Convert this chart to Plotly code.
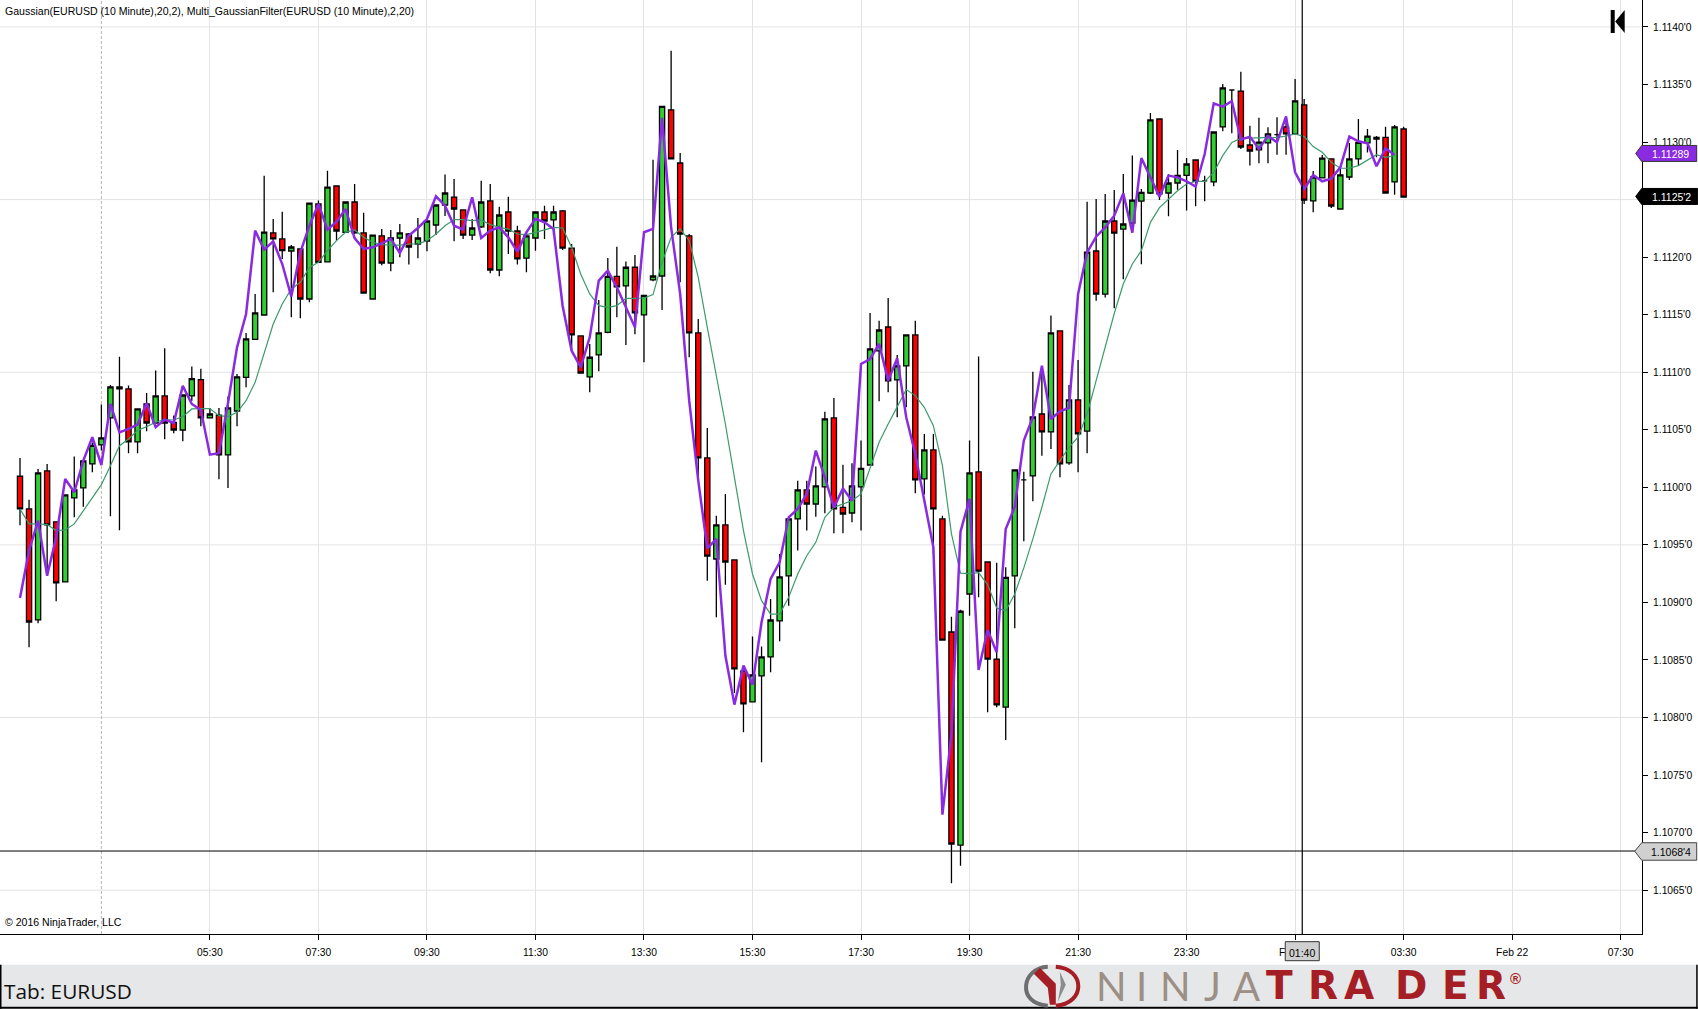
import numpy as np
import plotly.graph_objects as go

# Prices are kept in pips above 1.1000 (1.1125'0 -> 125.0)
BASE_PRICE = 1.1000
PIP = 0.0001

DIRECTION = ("RRGRRGGGGG" "GRRGRGRRGG" "RGRGGGGGRR" "GRGRGRGRRG" "RGGRGGGGRR"
             "GGRGRRGGRG" "RRRGGGRGRG" "GGRRRRRGRR" "RGGGGGGRGG" "RRGGGGRGGR"
             "GRRRGGRRRG" "GGGRGRGRGR" "GRGGGGRGGG" "RGGGGRRGGG" "RGRGGRGGGG" "RRGR")

HIGH = [102.55,98.93,101.60,102.03,97.00,99.34,102.67,102.30,103.90,107.20,
        108.89,111.35,108.84,106.81,108.20,110.14,112.08,106.23,108.02,110.49,
        110.30,106.90,106.90,107.88,109.85,113.41,116.80,127.08,123.31,123.95,
        121.05,120.71,124.70,124.91,127.51,126.20,124.80,126.35,123.86,121.92,
        122.44,122.36,122.88,122.10,123.40,123.14,124.53,127.17,126.79,124.10,
        123.31,126.64,126.35,124.38,125.25,122.73,122.00,123.92,124.47,124.47,
        124.10,121.14,113.15,112.46,116.28,119.93,120.91,119.61,120.19,116.68,
        128.47,133.10,137.94,129.05,122.01,114.63,105.16,97.54,99.42,93.69,
        84.04,87.03,86.16,90.30,94.21,97.25,100.58,100.58,101.80,106.57,
        107.75,101.97,102.09,104.06,115.15,114.48,116.45,111.50,113.24,114.48,
        104.64,104.64,97.54,88.76,89.37,104.06,111.36,93.51,93.45,93.05,
        101.51,101.36,110.05,110.50,114.92,113.59,108.89,111.07,124.82,125.05,
        125.48,125.83,127.22,128.82,125.92,132.52,132.00,127.20,129.31,128.61,
        128.44,127.08,130.87,135.04,134.52,136.11,131.42,132.12,131.28,132.15,
        132.00,135.48,133.74,127.48,128.87,128.53,127.66,129.92,132.00,131.13,
        130.52,131.33,131.48,131.33]

BODY_TOP = [100.96,98.12,101.25,101.42,97.00,99.34,99.77,102.29,103.65,104.29,
            108.72,108.72,108.55,106.81,107.24,107.94,107.94,105.65,108.02,109.44,
            109.36,106.37,106.26,106.90,109.60,112.89,115.15,122.18,122.10,121.58,
            120.88,120.71,124.70,124.62,126.09,126.18,124.79,124.79,122.10,121.92,
            121.84,121.66,122.10,122.01,121.66,123.14,124.53,125.57,125.22,124.10,
            122.53,124.79,124.88,123.66,123.92,122.27,121.84,123.92,123.92,123.92,
            124.01,120.79,113.15,111.30,113.41,118.33,118.33,119.12,119.12,116.68,
            118.36,133.10,132.79,128.18,121.84,113.41,102.55,96.73,96.73,93.69,
            84.04,83.70,85.26,88.47,92.21,97.25,99.77,99.77,100.12,105.94,
            106.03,98.26,100.12,101.65,112.02,113.67,113.93,110.55,113.24,113.24,
            103.25,103.25,97.25,87.43,89.23,101.25,101.34,93.51,85.08,92.18,
            101.51,100.64,106.11,106.37,113.41,113.59,107.59,107.59,120.44,120.53,
            123.14,123.14,122.88,124.96,125.63,131.92,132.00,126.44,127.11,128.09,
            128.44,126.62,130.87,134.70,134.52,134.43,129.74,130.00,130.70,130.64,
            131.31,133.57,133.22,126.96,128.61,128.53,127.14,128.53,129.97,130.52,
            130.41,130.41,131.31,131.13]

BODY_BOT = [98.12,88.30,88.48,96.73,91.69,91.78,99.08,99.95,102.03,103.68,
            106.03,108.55,103.94,103.94,105.59,105.59,105.59,104.98,104.98,107.94,
            106.03,106.03,102.81,102.81,106.63,109.56,112.86,114.97,121.58,120.56,
            120.53,116.36,116.36,119.55,119.58,122.27,122.15,122.10,116.88,116.36,
            119.49,119.49,121.66,120.88,121.14,121.40,122.79,124.53,124.18,121.92,
            121.92,122.62,118.88,118.88,122.27,119.84,119.92,121.66,123.14,123.23,
            120.79,113.24,109.93,109.59,111.50,113.47,117.41,117.50,115.15,114.98,
            118.02,118.36,128.53,122.01,113.41,102.55,94.03,93.77,93.51,84.22,
            81.18,81.35,83.61,85.26,88.39,92.30,97.25,98.55,98.55,100.03,
            98.12,97.68,97.77,100.03,101.94,111.85,109.24,109.33,110.55,100.64,
            100.73,98.12,86.73,69.01,68.92,90.73,92.72,85.08,81.09,80.91,
            92.30,100.64,100.99,104.81,104.81,102.03,102.12,104.64,104.89,116.79,
            116.79,122.09,122.44,122.96,124.87,125.57,125.49,125.57,126.44,127.11,
            126.59,126.62,126.53,131.31,134.52,129.57,129.22,129.31,129.92,130.64,
            130.70,130.70,124.96,124.88,126.88,124.44,124.18,126.96,128.53,129.92,
            130.26,125.57,126.53,125.22]

LOW = [96.70,86.10,88.19,92.30,90.10,91.78,97.40,98.32,101.30,103.19,
       97.48,96.27,102.96,102.96,104.87,105.59,104.17,104.69,104.00,107.53,
       105.30,106.03,100.70,99.95,105.30,108.69,112.80,114.97,116.94,119.84,
       114.77,114.68,116.07,119.55,119.58,121.43,122.15,122.00,116.88,116.36,
       119.29,118.77,119.98,119.35,119.90,120.50,121.92,123.57,121.37,121.58,
       121.49,122.53,118.59,118.33,120.27,119.35,118.68,120.56,121.58,121.92,
       120.62,111.82,109.93,108.26,110.08,113.38,114.77,112.37,113.30,110.86,
       117.90,115.41,128.53,117.81,111.30,100.70,91.89,88.71,91.54,82.13,
       78.71,81.35,76.11,83.93,86.62,89.72,94.50,96.24,97.45,97.74,
       96.00,96.00,96.96,96.24,101.94,107.48,108.26,106.09,106.95,99.48,
       99.37,94.20,86.73,65.59,67.13,88.85,90.44,80.45,80.89,78.05,
       87.75,95.31,98.79,102.75,103.33,100.87,101.97,101.31,102.95,116.22,
       116.50,115.55,118.07,122.15,119.37,125.49,124.96,123.55,125.86,124.04,
       124.42,124.85,126.15,130.93,130.76,129.40,127.95,128.15,128.15,128.90,
       128.90,130.70,124.62,123.89,126.88,124.27,124.18,126.70,127.92,129.10,
       128.67,125.57,125.43,125.22]

MULTI_GAUSSIAN = [90.39,94.50,97.11,92.33,95.66,100.73,99.57,102.32,104.35,101.94,
                  107.24,104.78,105.07,105.45,107.30,105.22,105.88,105.59,108.81,107.24,
                  106.72,102.84,102.96,107.30,112.16,115.06,122.30,120.65,121.37,119.40,
                  116.57,120.42,122.73,124.62,122.39,123.08,124.18,121.66,120.71,120.85,
                  121.20,121.58,120.36,121.87,122.53,123.31,125.28,124.47,122.73,122.39,
                  125.20,121.66,122.30,122.59,121.72,120.48,122.15,123.34,123.02,122.44,
                  115.78,111.87,110.43,113.03,117.96,118.83,117.38,115.64,113.90,122.16,
                  122.45,132.09,122.59,116.80,107.53,100.58,94.70,95.51,85.38,81.12,
                  84.51,82.86,88.27,92.04,93.48,97.39,98.12,99.42,103.19,100.87,
                  98.26,99.91,98.84,110.72,111.15,112.46,109.27,111.21,106.09,102.90,
                  98.85,94.79,71.56,78.57,96.15,98.99,84.13,87.60,85.66,96.38,
                  98.30,104.06,106.09,110.57,105.94,106.61,106.90,116.79,120.41,121.78,
                  122.59,123.60,125.54,122.12,128.61,126.93,125.25,127.08,126.93,126.59,
                  126.12,128.96,133.36,133.07,133.54,130.21,130.47,129.40,130.52,129.97,
                  132.23,127.37,125.92,127.14,126.59,126.82,127.80,130.47,130.06,129.89,
                  127.89,129.45,128.90]

GAUSSIAN = [98.12,96.82,96.82,96.76,96.24,96.30,96.82,97.98,99.13,100.23,
            101.88,103.62,104.20,104.93,105.27,105.65,105.88,105.85,106.14,106.81,
            106.84,106.84,106.23,106.14,106.52,107.53,109.12,111.58,114.19,115.93,
            117.23,117.81,119.11,119.55,120.56,121.43,122.15,122.36,121.72,121.29,
            121.08,121.05,121.05,121.14,121.14,121.43,122.01,122.73,123.26,123.26,
            123.17,123.23,122.82,122.59,122.44,122.01,121.95,122.15,122.36,122.59,
            122.53,120.85,118.53,116.80,115.78,115.64,115.79,116.42,116.42,116.45,
            116.74,119.55,121.72,122.45,121.43,118.25,113.90,109.85,105.50,100.87,
            96.24,92.47,90.15,88.98,88.98,90.44,92.47,94.06,95.22,97.39,
            98.26,98.55,98.84,99.42,101.59,103.91,105.50,107.00,108.49,107.97,
            106.95,105.36,101.89,95.95,92.55,92.50,92.58,91.55,89.51,89.28,
            90.73,93.00,95.52,98.27,101.16,102.32,103.48,104.35,106.37,109.27,
            112.17,115.10,117.66,119.40,120.56,123.02,124.30,125.05,125.77,126.35,
            126.58,126.58,127.37,128.82,129.97,130.32,130.35,130.35,130.35,130.41,
            130.52,130.70,130.47,129.60,129.11,128.24,127.72,127.72,127.95,128.44,
            128.90,128.67,128.82]

TIME_TICK_BARS = [21, 33, 45, 57, 69, 81, 93, 105, 117, 129, 141, 153, 165, 177]
TIME_TICK_LABELS = ["05:30", "07:30", "09:30", "11:30", "13:30", "15:30", "17:30", "19:30",
                    "21:30", "23:30", "Feb 21", "03:30", "Feb 22", "07:30"]
PRICE_TICKS = [1.1065, 1.1070, 1.1075, 1.1080, 1.1085, 1.1090, 1.1095, 1.1100, 1.1105,
               1.1110, 1.1115, 1.1120, 1.1125, 1.1130, 1.1135, 1.1140]
PRICE_GRID = [1.1065, 1.1080, 1.1095, 1.1110, 1.1125, 1.1140]
SESSION_BAR = 9
CROSS_BAR = 141.79
CROSS_PRICE = 1.10684
LAST_INDICATOR = "1.11289"
LAST_PRICE = "1.1125'2"
CROSS_PRICE_LABEL = "1.1068'4"
CROSS_TIME_LABEL = "01:40"

W, H = 1698, 1009
PLOT_R, PLOT_B = 1642.3, 934.3
BAR_PX = 9.045
FONT = "Liberation Sans"


def to_price(a):
    return BASE_PRICE + np.array(a) * PIP


def fx(px):
    return px / PLOT_R


def fy(py):
    return (PLOT_B - py) / PLOT_B


def poly(points):
    return "M " + " L ".join(f"{fx(a):.5f},{fy(b):.5f}" for a, b in points) + " Z"


def curve(p0, c1, c2, p1):
    return (f"M {fx(p0[0]):.5f},{fy(p0[1]):.5f} C {fx(c1[0]):.5f},{fy(c1[1]):.5f} "
            f"{fx(c2[0]):.5f},{fy(c2[1]):.5f} {fx(p1[0]):.5f},{fy(p1[1]):.5f}")


n = len(DIRECTION)
assert all(len(a) == n for a in (HIGH, BODY_TOP, BODY_BOT, LOW))
is_up = np.array([c == "G" for c in DIRECTION])
top, bot = to_price(BODY_TOP), to_price(BODY_BOT)
opens = np.where(is_up, bot, top)
closes = np.where(is_up, top, bot)
bars = np.arange(n)

fig = go.Figure()
fig.add_trace(go.Candlestick(
    x=bars, open=opens, high=to_price(HIGH), low=to_price(LOW), close=closes,
    whiskerwidth=0,
    increasing=dict(line=dict(color="black", width=1.3), fillcolor="#32CD32"),
    decreasing=dict(line=dict(color="black", width=1.3), fillcolor="#FF0000"),
    hoverinfo="skip",
))
fig.add_trace(go.Scatter(x=bars[:len(GAUSSIAN)], y=to_price(GAUSSIAN), mode="lines",
                         line=dict(color="#3C9A6C", width=1.2), hoverinfo="skip"))
fig.add_trace(go.Scatter(x=bars[:len(MULTI_GAUSSIAN)], y=to_price(MULTI_GAUSSIAN), mode="lines",
                         line=dict(color="#8A2BE2", width=2.5), hoverinfo="skip"))

shapes = []
for level in PRICE_GRID:
    shapes.append(dict(type="line", xref="paper", x0=0, x1=1, yref="y", y0=level, y1=level,
                       layer="below", line=dict(color="#E3E3E3", width=1)))
shapes.append(dict(type="line", xref="x", x0=SESSION_BAR, x1=SESSION_BAR, yref="paper", y0=0, y1=1,
                   layer="below", line=dict(color="#B4B4B4", width=1, dash="3px,2px")))
# crosshair
shapes.append(dict(type="line", xref="x", x0=CROSS_BAR, x1=CROSS_BAR, yref="paper", y0=0, y1=1,
                   line=dict(color="black", width=1.2)))
shapes.append(dict(type="line", xref="paper", x0=0, x1=1, yref="y", y0=CROSS_PRICE, y1=CROSS_PRICE,
                   line=dict(color="black", width=1)))
# price tags
shapes.append(dict(type="path", xref="paper", yref="paper", fillcolor="#8A2BE2",
                   line=dict(color="#333333", width=1),
                   path=poly([(1636, 153.5), (1642, 145.5), (1697, 145.5), (1697, 161.5), (1642, 161.5)])))
shapes.append(dict(type="path", xref="paper", yref="paper", fillcolor="#000000",
                   line=dict(color="#000000", width=1),
                   path=poly([(1636, 196.5), (1642, 188.5), (1698, 188.5), (1698, 204.5), (1642, 204.5)])))
shapes.append(dict(type="path", xref="paper", yref="paper", fillcolor="#D0D0D0",
                   line=dict(color="#444444", width=1),
                   path=poly([(1635, 851.5), (1642, 843), (1697, 843), (1697, 860.5), (1642, 860.5)])))
# crosshair time box
shapes.append(dict(type="rect", xref="paper", yref="paper", x0=fx(1285.5), x1=fx(1319.5),
                   y0=fy(961), y1=fy(942), fillcolor="#D0D0D0", line=dict(color="#333333", width=1)))
# back-to-end glyph
shapes.append(dict(type="path", xref="paper", yref="paper", fillcolor="black", line=dict(width=0),
                   path=poly([(1611, 10), (1615, 10), (1615, 33), (1611, 33)])))
shapes.append(dict(type="path", xref="paper", yref="paper", fillcolor="black", line=dict(width=0),
                   path=poly([(1625, 10), (1615.5, 21.5), (1625, 33)])))
# bottom band
shapes.append(dict(type="rect", xref="paper", yref="paper", x0=0, x1=fx(W), y0=fy(1007), y1=fy(965),
                   fillcolor="#E6E7E8", line=dict(width=0)))
for x0, x1, y0, y1 in [(0, W, 1007, H), (0, 1.5, 965, H), (W - 1.5, W, 965, H)]:
    shapes.append(dict(type="rect", xref="paper", yref="paper", x0=fx(x0), x1=fx(x1), y0=fy(y1), y1=fy(y0),
                       fillcolor="black", line=dict(width=0)))
# logo mark: grey left arc, red right arc, swoosh in the middle
shapes.append(dict(type="path", xref="paper", yref="paper", line=dict(color="#6D6E70", width=4),
                   path=curve((1048, 967), (1022, 968), (1016, 1004), (1048, 1006))))
shapes.append(dict(type="path", xref="paper", yref="paper", line=dict(color="#A61E25", width=4),
                   path=curve((1056, 967), (1086, 969), (1086, 1004), (1056, 1006))))
shapes.append(dict(type="path", xref="paper", yref="paper", fillcolor="#A61E25", line=dict(width=0),
                   path=poly([(1040, 968), (1056, 984), (1056, 1005), (1050, 1005), (1048, 988), (1034, 974)])))
shapes.append(dict(type="path", xref="paper", yref="paper", fillcolor="#8A8C8E", line=dict(width=0),
                   path=poly([(1060, 972), (1066, 985), (1058, 1002), (1061, 985)])))

anns = []


def text(x, y, s, size=10, color="black", family=FONT, anchor="left"):
    anns.append(dict(xref="paper", yref="paper", x=fx(x), y=fy(y), text=s, showarrow=False,
                     xanchor=anchor, yanchor="middle", borderpad=0,
                     font=dict(family=family, size=size, color=color)))


text(4, 11, "Gaussian(EURUSD (10 Minute),20,2), Multi_GaussianFilter(EURUSD (10 Minute),2,20)", 10.55)
text(4, 922, "© 2016 NinjaTrader, LLC", 10.55)
text(1651, 154, LAST_INDICATOR, 10.5, "white")
text(1651, 197, LAST_PRICE, 10.5, "white")
text(1650, 852, CROSS_PRICE_LABEL, 10.5, "black")
text(1302.5, 953, CROSS_TIME_LABEL, 10.5, "black", anchor="center")
text(3, 991, "Tab: EURUSD", 20.8, "#111111", "Open Sans")
for ch, cx in zip("NINJA", (1112, 1142, 1176, 1213, 1247)):
    text(cx, 986, ch, 40, "#9C8F85", "Lato", "center")
for ch, cx in zip("TRADER", (1280, 1323, 1359, 1411, 1456, 1491)):
    text(cx, 986, f"<b>{ch}</b>", 39, "#A61E25", "DejaVu Sans", "center")
text(1516, 979, "<b>®</b>", 15, "#A61E25", FONT, "center")

fig.update_layout(
    width=W, height=H, autosize=False,
    margin=dict(l=0, r=W - PLOT_R, t=0, b=H - PLOT_B, pad=0),
    paper_bgcolor="white", plot_bgcolor="white",
    showlegend=False, hovermode=False, boxgap=0.18,
    font=dict(family=FONT, size=10, color="black"),
    xaxis=dict(range=[-20 / BAR_PX, (PLOT_R - 20) / BAR_PX], rangeslider=dict(visible=False),
               tickmode="array", tickvals=TIME_TICK_BARS, ticktext=TIME_TICK_LABELS,
               showgrid=True, gridcolor="#E3E3E3", gridwidth=1, zeroline=False,
               showline=True, linecolor="black", linewidth=1,
               ticks="outside", ticklen=5, tickcolor="black", tickwidth=1, ticklabelstandoff=4,
               tickangle=0, tickfont=dict(family=FONT, size=10.3, color="black")),
    yaxis=dict(side="right", range=[1.106119, 1.114234],
               tickmode="array", tickvals=PRICE_TICKS,
               ticktext=[f"{p:.4f}'0" for p in PRICE_TICKS],
               showgrid=False, zeroline=False,
               showline=True, linecolor="black", linewidth=1,
               ticks="outside", ticklen=5, tickcolor="black", tickwidth=1, ticklabelstandoff=3,
               tickfont=dict(family=FONT, size=10.3, color="black")),
    shapes=shapes, annotations=anns,
)

fig.write_html("out.html", config=dict(displayModeBar=False),
               post_script="document.body.style.margin='0';document.body.style.overflow='hidden';")
